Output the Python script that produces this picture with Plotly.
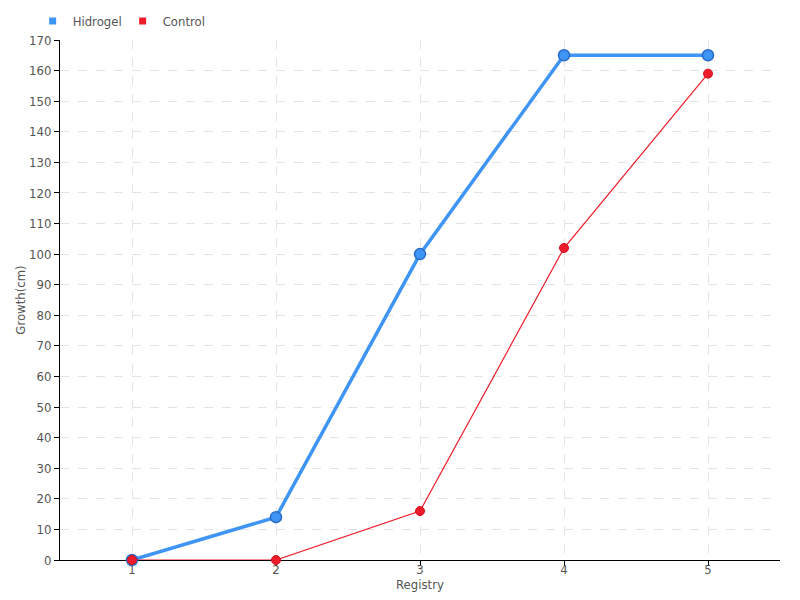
import plotly.graph_objects as go

registry = [1, 2, 3, 4, 5]
hidrogel = [0, 14, 100, 165, 165]
control = [0, 0, 16, 102, 159]
y_ticks = list(range(0, 171, 10))

FONT = "DejaVu Sans Condensed, Roboto Condensed, sans-serif"
BLUE = "#3f95f5"
RED = "#ee1c2a"
GRAY = "#555555"

fig = go.Figure()
fig.add_trace(go.Scatter(x=registry, y=hidrogel, mode="lines+markers", name="Hidrogel",
                         line=dict(color=BLUE, width=3.5), cliponaxis=False,
                         marker=dict(size=11, color=BLUE, line=dict(color="#2a6cc8", width=1.5)),
                         showlegend=False))
fig.add_trace(go.Scatter(x=registry, y=control, mode="lines+markers", name="Control",
                         line=dict(color=RED, width=1.2), cliponaxis=False,
                         marker=dict(size=9, color=RED, line=dict(color="#d01020", width=1)),
                         showlegend=False))
# legend entries (square swatches)
fig.add_trace(go.Scatter(x=[None], y=[None], mode="markers", name="Hidrogel",
                         marker=dict(symbol="square", size=7, color=BLUE)))
fig.add_trace(go.Scatter(x=[None], y=[None], mode="markers", name="Control",
                         marker=dict(symbol="square", size=7, color=RED)))

axis_common = dict(showline=True, linecolor="black", linewidth=1, ticks="outside",
                   ticklen=5, tickcolor="black", showgrid=True, gridcolor="#e3e3e3",
                   griddash="dash", gridwidth=1, zeroline=False, layer="below traces",
                   tickfont=dict(family=FONT, size=13, color=GRAY))

fig.update_layout(
    width=800, height=600,
    margin=dict(l=60, r=20, t=40, b=40, autoexpand=False),
    plot_bgcolor="white", paper_bgcolor="white",
    font=dict(family=FONT, color=GRAY),
    legend=dict(orientation="h", x=-0.038, xref="paper", y=0.99, yref="container",
                xanchor="left", yanchor="top", font=dict(family=FONT, size=13, color=GRAY),
                itemwidth=30, tracegroupgap=0, entrywidth=45),
    xaxis=dict(range=[0.5, 5.5], tickvals=registry, ticklabelstandoff=-8, **axis_common,
               title=dict(text="Registry", standoff=0, font=dict(family=FONT, size=13, color=GRAY))),
    yaxis=dict(range=[0, 170], tickvals=y_ticks, **axis_common,
               title=dict(text="Growth(cm)", standoff=0, font=dict(family=FONT, size=13, color=GRAY))),
)
fig.write_html("out.html", post_script="document.body.style.margin='0';",
               config={"displayModeBar": False})
